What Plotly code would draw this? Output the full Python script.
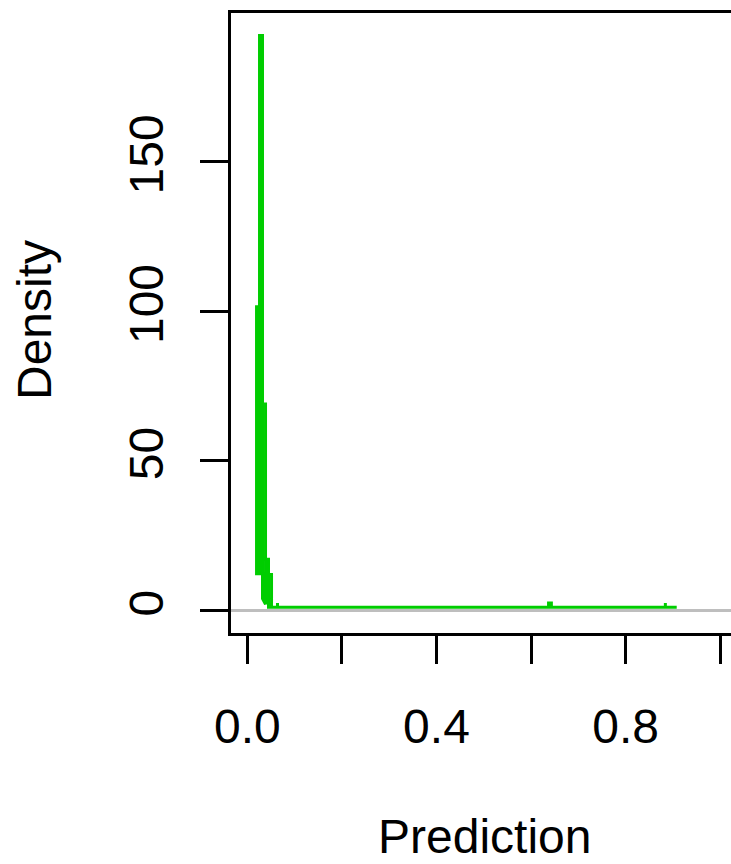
import plotly.graph_objects as go

# Density curve of predictions (vertices)
prediction = [0.0195, 0.0195, 0.0258, 0.0258, 0.0321, 0.0321, 0.0385, 0.0385, 0.0385,
              0.0448, 0.0448, 0.0512, 0.0512, 0.0512, 0.0639, 0.0639, 0.0639,
              0.6370, 0.6370, 0.6430, 0.6430, 0.8840, 0.8840, 0.8840, 0.9080]
density = [102.0, 12.2, 12.2, 192.2, 192.2, 3.9, 2.0, 69.5, 17.1,
           17.1, 1.0, 1.0, 12.5, 1.0, 1.0, 2.4, 1.0,
           1.0, 2.4, 2.4, 1.0, 1.0, 2.4, 1.0, 1.0]

x_tick_vals = [0.0, 0.2, 0.4, 0.6, 0.8, 1.0]
x_tick_text = ["0.0", "", "0.4", "", "0.8", ""]
y_tick_vals = [0, 50, 100, 150]
y_tick_text = ["0", "50", "100", "150"]

FONT = "Liberation Sans, Arial, sans-serif"
W, H = 731, 864
L, R, T, B = 231, 0, 13, 231

fig = go.Figure()
fig.add_trace(go.Scatter(
    x=prediction, y=density, mode="lines",
    line=dict(color="#00CD00", width=3),
    hoverinfo="skip", showlegend=False,
))

fig.update_layout(
    width=W, height=H,
    margin=dict(l=L, r=R, t=T, b=B, pad=0),
    paper_bgcolor="white", plot_bgcolor="white",
    font=dict(family=FONT, size=48, color="black"),
    showlegend=False,
    xaxis=dict(
        range=[-0.0345, 1.0228], autorange=False,
        showgrid=False, zeroline=False,
        showline=True, linecolor="black", linewidth=3, mirror=True,
        ticks="outside", ticklen=28, tickwidth=3, tickcolor="black",
        tickvals=x_tick_vals, ticktext=x_tick_text,
        tickfont=dict(family=FONT, size=48, color="black"),
        ticklabelstandoff=21,
    ),
    yaxis=dict(
        range=[-7.6, 199.7], autorange=False,
        showgrid=False,
        zeroline=True, zerolinecolor="#BEBEBE", zerolinewidth=3,
        showline=True, linecolor="black", linewidth=3, mirror=False,
        ticks="outside", ticklen=28, tickwidth=3, tickcolor="black",
        tickvals=y_tick_vals, ticktext=y_tick_text, tickangle=-90,
        tickfont=dict(family=FONT, size=48, color="black"),
        ticklabelstandoff=18,
    ),
    annotations=[
        dict(text="Prediction", xref="paper", yref="paper",
             x=(484 - L) / (W - L - R), y=(H - B - 836) / (H - T - B),
             xanchor="center", yanchor="middle", showarrow=False,
             font=dict(family=FONT, size=48, color="black")),
        dict(text="Density", xref="paper", yref="paper",
             x=(34 - L) / (W - L - R), y=(H - B - 320) / (H - T - B),
             xanchor="center", yanchor="middle", showarrow=False, textangle=-90,
             font=dict(family=FONT, size=48, color="black")),
    ],
)

fig.write_html("out.html")
